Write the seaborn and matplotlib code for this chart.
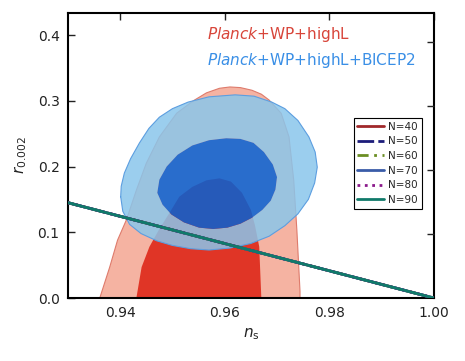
import matplotlib
matplotlib.use("Agg")
import matplotlib.pyplot as plt
from matplotlib.path import Path
from matplotlib.patches import PathPatch
import seaborn as sns

# ---- contour outlines (n_s, r) ----
planck95_ns = [0.9361, 0.9380, 0.9395, 0.9412, 0.9431, 0.9450, 0.9475, 0.9508, 0.9540,
               0.9565, 0.9590, 0.9610, 0.9630, 0.9652, 0.9670, 0.9685, 0.9708, 0.9723,
               0.9732, 0.9738, 0.9744, 0.9744]
planck95_r = [0.0, 0.047, 0.088, 0.119, 0.164, 0.205, 0.245, 0.281, 0.300,
              0.312, 0.319, 0.321, 0.320, 0.316, 0.310, 0.301, 0.281, 0.245,
              0.179, 0.103, 0.010, 0.0]

planck68_ns = [0.9431, 0.9441, 0.9456, 0.9475, 0.9494, 0.9513, 0.9538, 0.9565,
               0.9590, 0.9612, 0.9633, 0.9650, 0.9658, 0.9666, 0.9670]
planck68_r = [0.0, 0.047, 0.078, 0.105, 0.129, 0.154, 0.169, 0.179,
              0.182, 0.177, 0.160, 0.134, 0.110, 0.078, 0.0]

bicep95_ns = [0.9401, 0.9402, 0.9408, 0.9420, 0.9437, 0.9455, 0.9475, 0.9500, 0.9530,
              0.9570, 0.9620, 0.9656, 0.9690, 0.9715, 0.9740, 0.9761, 0.9773, 0.9777,
              0.9772, 0.9760, 0.9740, 0.9715, 0.9685, 0.9650, 0.9610, 0.9570, 0.9535,
              0.9500, 0.9470, 0.9440, 0.9418, 0.9405]
bicep95_r = [0.154, 0.170, 0.190, 0.212, 0.236, 0.258, 0.275, 0.288, 0.298,
             0.306, 0.309, 0.307, 0.298, 0.288, 0.270, 0.245, 0.222, 0.199,
             0.175, 0.150, 0.128, 0.110, 0.094, 0.083, 0.076, 0.073, 0.075,
             0.080, 0.087, 0.098, 0.112, 0.132]

bicep68_ns = [0.9471, 0.9475, 0.9489, 0.9510, 0.9538, 0.9570, 0.9603, 0.9630, 0.9655,
              0.9675, 0.9692, 0.9700, 0.9697, 0.9688, 0.9672, 0.9652, 0.9630, 0.9605,
              0.9578, 0.9551, 0.9522, 0.9498, 0.9481]
bicep68_r = [0.160, 0.180, 0.200, 0.218, 0.232, 0.240, 0.243, 0.242, 0.236,
             0.222, 0.203, 0.184, 0.165, 0.148, 0.134, 0.122, 0.113, 0.107,
             0.105, 0.107, 0.115, 0.127, 0.142]

# ---- inflation model lines ----
n_labels = ["N=40", "N=50", "N=60", "N=70", "N=80", "N=90"]
line_ns = [0.93, 1.00]
line_r = [0.145, 0.0]
line_colors = ["#a0282a", "#1c1c7a", "#6b8e23", "#3a5ca8", "#8b1a8b", "#107a6a"]
line_styles = ["-", (0, (6, 1.5)), (0, (4, 2, 1, 2)), "-", ":", "-"]

sns.set_theme(style="white")
plt.rcParams["font.family"] = ["DejaVu Sans"]
plt.rcParams["mathtext.fontset"] = "dejavusans"

fig = plt.figure(figsize=(4.65, 3.61), dpi=100)
ax = fig.add_axes([0.146, 0.1745, 0.787, 0.7895])

# Planck contours
ax.fill(planck95_ns, planck95_r, facecolor="#f5b3a2", edgecolor="#de7b6c", lw=0.8, zorder=1)
ax.fill(planck68_ns, planck68_r, facecolor="#e03526", edgecolor="none", zorder=2)

# BICEP2: 95% region drawn as a ring around the 68% region, both semi transparent
outer = list(zip(bicep95_ns, bicep95_r))
inner = list(zip(bicep68_ns, bicep68_r))[::-1]
verts = outer + [outer[0]] + inner + [inner[0]]
codes = ([Path.MOVETO] + [Path.LINETO] * (len(outer) - 1) + [Path.CLOSEPOLY]
         + [Path.MOVETO] + [Path.LINETO] * (len(inner) - 1) + [Path.CLOSEPOLY])
ring = PathPatch(Path(verts, codes), facecolor="#8ac6eb", alpha=0.85, edgecolor="none", zorder=3)
ax.add_patch(ring)
ax.plot(bicep95_ns + bicep95_ns[:1], bicep95_r + bicep95_r[:1], color="#5c9ee0", lw=0.8, zorder=3)
ax.fill(bicep68_ns, bicep68_r, facecolor="#0561d4", alpha=0.85, edgecolor="none", zorder=4)

for lab, c, ls in zip(n_labels, line_colors, line_styles):
    ax.plot(line_ns, line_r, color=c, ls=ls, lw=2, label=lab, zorder=5)

ax.set_xlim(0.93, 1.00)
ax.set_ylim(0, 0.4335)
ax.set_xticks([0.94, 0.96, 0.98, 1.00])
ax.set_yticks([0.0, 0.1, 0.2, 0.3, 0.4])
ax.set_xticklabels(["0.94", "0.96", "0.98", "1.00"])
ax.set_yticklabels(["0.0", "0.1", "0.2", "0.3", "0.4"])
ax.tick_params(direction="in", length=5, width=1, colors="#222222", labelsize=10,
               top=True, right=False, pad=6)
for sp in ax.spines.values():
    sp.set_color("black")
    sp.set_linewidth(1.5)

# right-side ticks come from a slightly different scale
ax2 = ax.twinx()
ax2.set_ylim(0, 0.446)
ax2.set_yticks([0.1, 0.2, 0.3, 0.4])
ax2.set_yticklabels([])
ax2.tick_params(direction="in", length=5, width=1, colors="#222222")
for sp in ax2.spines.values():
    sp.set_visible(False)

ax.set_xlabel(r"$n_{\rm s}$", fontsize=11, color="#222222", labelpad=4)
ax.set_ylabel(r"$r_{0.002}$", fontsize=11, color="#222222", labelpad=6)

ax.text(0.38, 0.923, r"$\mathit{Planck}$+WP+highL", transform=ax.transAxes,
        color="#d8453a", fontsize=11, va="center", ha="left", zorder=6)
ax.text(0.38, 0.835, r"$\mathit{Planck}$+WP+highL+BICEP2", transform=ax.transAxes,
        color="#3a8fe6", fontsize=11, va="center", ha="left", zorder=6)

leg = ax.legend(loc="upper right", bbox_to_anchor=(0.967, 0.632), fontsize=7.5,
                frameon=True, fancybox=False, framealpha=1, edgecolor="black",
                handlelength=2.6, labelspacing=0.45, borderpad=0.35, handletextpad=0.4,
                borderaxespad=0)
leg.get_frame().set_linewidth(0.8)
leg.set_zorder(7)

fig.savefig("out.png", dpi=100)
